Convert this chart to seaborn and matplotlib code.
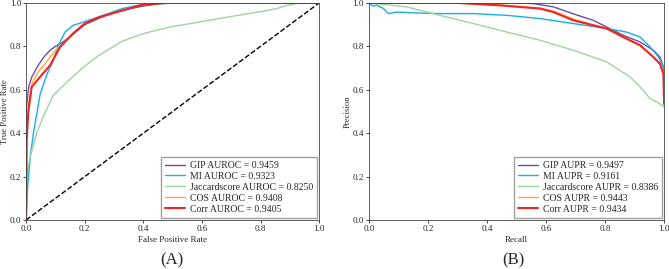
import pandas as pd
import matplotlib
matplotlib.use("Agg")
import matplotlib.pyplot as plt
import seaborn as sns

# ROC curves (false positive rate, true positive rate)
gip_fpr = [0, 0, 0.005, 0.01, 0.02, 0.04, 0.06, 0.08, 0.1, 0.12, 0.15, 0.2, 0.25, 0.3, 0.35, 0.4, 0.45, 0.5, 1.0]
gip_tpr = [0, 0.5, 0.57, 0.62, 0.66, 0.71, 0.75, 0.78, 0.80, 0.815, 0.845, 0.9, 0.93, 0.955, 0.972, 0.986, 0.995, 1.0, 1.0]
mi_fpr = [0, 0.005, 0.015, 0.025, 0.048, 0.07, 0.093, 0.11, 0.133, 0.16, 0.18, 0.25, 0.33, 0.40, 0.46, 1.0]
mi_tpr = [0, 0.15, 0.30, 0.40, 0.58, 0.667, 0.736, 0.805, 0.866, 0.897, 0.905, 0.937, 0.975, 0.994, 1.0, 1.0]
jac_fpr = [0, 0.002, 0.014, 0.036, 0.06, 0.093, 0.14, 0.196, 0.25, 0.33, 0.4, 0.49, 0.59, 0.71, 0.8, 0.855, 0.89, 0.935, 1.0]
jac_tpr = [0, 0.21, 0.29, 0.40, 0.48, 0.575, 0.636, 0.705, 0.76, 0.825, 0.859, 0.889, 0.912, 0.94, 0.96, 0.974, 0.989, 1.0, 1.0]
cos_fpr = [0, 0.002, 0.008, 0.02, 0.04, 0.07, 0.1, 0.13, 0.16, 0.2, 0.25, 0.33, 0.39, 0.46, 1.0]
cos_tpr = [0, 0.40, 0.53, 0.63, 0.68, 0.73, 0.78, 0.82, 0.86, 0.905, 0.935, 0.966, 0.989, 1.0, 1.0]
corr_fpr = [0, 0.002, 0.008, 0.019, 0.048, 0.082, 0.116, 0.16, 0.2, 0.25, 0.33, 0.39, 0.46, 1.0]
corr_tpr = [0, 0.37, 0.505, 0.613, 0.66, 0.713, 0.797, 0.859, 0.905, 0.935, 0.966, 0.989, 1.0, 1.0]

# PR curves (recall, precision)
gip_rec = [0, 0.3, 0.5, 0.557, 0.625, 0.69, 0.76, 0.806, 0.862, 0.919, 0.964, 0.986, 0.998, 1.0]
gip_prec = [1.0, 1.0, 1.0, 0.997, 0.982, 0.951, 0.92, 0.889, 0.851, 0.82, 0.782, 0.751, 0.705, 0.55]
mi_rec = [0, 0.015, 0.026, 0.049, 0.066, 0.094, 0.16, 0.24, 0.354, 0.467, 0.58, 0.693, 0.806, 0.873, 0.919, 0.953, 0.981, 0.998, 1.0]
mi_prec = [1.0, 0.985, 0.99, 0.974, 0.951, 0.958, 0.954, 0.951, 0.951, 0.943, 0.928, 0.905, 0.882, 0.866, 0.843, 0.797, 0.751, 0.705, 0.613]
jac_rec = [0, 0.128, 0.24, 0.354, 0.467, 0.58, 0.693, 0.806, 0.885, 0.919, 0.953, 0.986, 1.0]
jac_prec = [1.0, 0.982, 0.943, 0.905, 0.866, 0.828, 0.782, 0.728, 0.659, 0.613, 0.559, 0.536, 0.52]
cos_rec = [0, 0.3, 0.444, 0.58, 0.625, 0.693, 0.76, 0.806, 0.862, 0.919, 0.964, 0.986, 0.998, 1.0]
cos_prec = [1.0, 1.0, 0.99, 0.976, 0.962, 0.925, 0.9, 0.882, 0.84, 0.805, 0.75, 0.72, 0.674, 0.53]
corr_rec = [0, 0.3, 0.444, 0.58, 0.625, 0.693, 0.76, 0.806, 0.862, 0.919, 0.964, 0.986, 0.998, 1.0]
corr_prec = [1.0, 1.0, 0.989, 0.974, 0.958, 0.92, 0.897, 0.882, 0.843, 0.805, 0.751, 0.72, 0.674, 0.536]

roc_labels = ["GIP AUROC = 0.9459", "MI AUROC = 0.9323", "Jaccardscore AUROC = 0.8250",
              "COS AUROC = 0.9408", "Corr AUROC = 0.9405"]
pr_labels = ["GIP AUPR = 0.9497", "MI AUPR = 0.9161", "Jaccardscore AUPR = 0.8386",
             "COS AUPR = 0.9443", "Corr AUPR = 0.9434"]
colors = ["#6a4fa8", "#1aaee8", "#9dd59c", "#ffa83a", "#f52222"]
widths = [1.0, 1.0, 1.0, 1.0, 1.5]

sns.set_style("ticks")
plt.rcParams['font.family'] = ['Liberation Serif', 'DejaVu Serif']

fig = plt.figure(figsize=(6.69, 2.69), dpi=100)
ax1 = fig.add_axes([0.039, 0.182, 0.438, 0.807])
ax2 = fig.add_axes([0.5516, 0.182, 0.441, 0.807])

roc_x = [gip_fpr, mi_fpr, jac_fpr, cos_fpr, corr_fpr]
roc_y = [gip_tpr, mi_tpr, jac_tpr, cos_tpr, corr_tpr]
pr_x = [gip_rec, mi_rec, jac_rec, cos_rec, corr_rec]
pr_y = [gip_prec, mi_prec, jac_prec, cos_prec, corr_prec]

for i in range(5):
    df = pd.DataFrame({'x': roc_x[i], 'y': roc_y[i]})
    sns.lineplot(data=df, x='x', y='y', ax=ax1, sort=False, estimator=None,
                 color=colors[i], lw=widths[i], label=roc_labels[i])
    df = pd.DataFrame({'x': pr_x[i], 'y': pr_y[i]})
    sns.lineplot(data=df, x='x', y='y', ax=ax2, sort=False, estimator=None,
                 color=colors[i], lw=widths[i], label=pr_labels[i])

ax1.plot([0, 1], [0, 1], 'k--', lw=1)

for ax, xl, yl in [(ax1, 'False Positive Rate', 'True Positive Rate'),
                   (ax2, 'Recall', 'Precision')]:
    ax.set_xlim(0, 1)
    ax.set_ylim(0, 1)
    ax.set_xticks([0, 0.2, 0.4, 0.6, 0.8, 1.0])
    ax.set_yticks([0, 0.2, 0.4, 0.6, 0.8, 1.0])
    ax.tick_params(labelsize=6.6, length=2, width=0.6, pad=1.5)
    ax.set_xlabel(xl, fontsize=6.5, labelpad=2)
    ax.set_ylabel(yl, fontsize=6.2)
    ax.yaxis.set_label_coords(-0.059, 0.5)
    for s in ax.spines.values():
        s.set_linewidth(0.6)
        s.set_color('#444444')
    ax.legend(loc='lower right', fontsize=7, frameon=True, fancybox=False,
              edgecolor='#888888', handlelength=2.0, handletextpad=0.5,
              borderpad=0.4, labelspacing=0.2, borderaxespad=0.25)

fig.text(0.257, 0.033, '(A)', ha='center', va='center', fontsize=12)
fig.text(0.767, 0.033, '(B)', ha='center', va='center', fontsize=12)

fig.savefig('out.png', dpi=100)
